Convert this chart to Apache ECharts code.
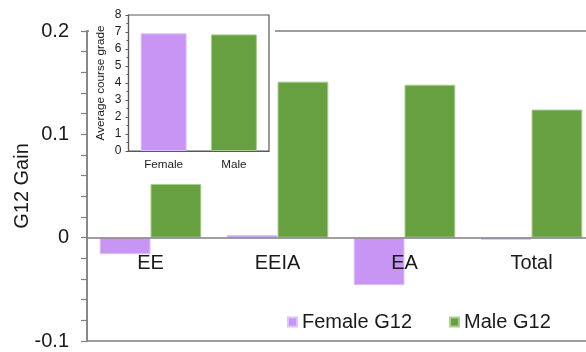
<!DOCTYPE html>
<html>
<head>
<meta charset="utf-8">
<script src="https://cdn.jsdelivr.net/npm/echarts@6/dist/echarts.min.js"></script>
<style>html,body{margin:0;padding:0;background:#fff}#c{width:586px;height:352px}</style>
</head>
<body>
<div id="c"></div>
<script>
const categories = ['EE', 'EEIA', 'EA', 'Total'];
const femaleG12 = [-0.016, 0.0026, -0.046, -0.002];
const maleG12 = [0.052, 0.151, 0.148, 0.124];
const insetCategories = ['Female', 'Male'];
const insetGrades = [6.92, 6.86];

const purple = '#c895f4';
const green = '#66a041';
const font = 'Liberation Sans, Arial, sans-serif';

const gridTop = 31, gridBottom = 11, chartH = 352;
const plotH = chartH - gridTop - gridBottom;
const yMin = -0.1, yMax = 0.2;
// move the category axis up to the zero line
const zeroOffset = -plotH * (0 - yMin) / (yMax - yMin);

const chart = echarts.init(document.getElementById('c'), null, {renderer: 'canvas'});
chart.setOption({
  animation: false,
  backgroundColor: '#fff',
  textStyle: {fontFamily: font},
  grid: [
    {left: 87, top: gridTop, right: -9, bottom: gridBottom, show: true, borderColor: '#7f7f7f', borderWidth: 1.5, backgroundColor: 'transparent', outerBoundsMode: 'none', containLabel: false},
    {left: 128.5, top: 15, width: 140.5, height: 136, show: true, borderColor: '#595959', borderWidth: 1.2, backgroundColor: '#fff', z: 5, outerBoundsMode: 'none', containLabel: false}
  ],
  graphic: [
    {type: 'rect', shape: {x: 89, y: 0, width: 186, height: 177}, style: {fill: '#fff'}, z: 3}
  ],
  legend: {
    left: 287, top: 312, padding: 0, itemGap: 37, itemWidth: 9, itemHeight: 9,
    icon: 'rect', data: ['Female G12', 'Male G12'],
    textStyle: {fontSize: 20, color: '#1a1a1a', fontFamily: font}
  },
  xAxis: [
    {type: 'category', gridIndex: 0, data: categories, z: 3, position: 'bottom', offset: zeroOffset,
     axisLine: {onZero: false, lineStyle: {color: '#808080', width: 1.5}},
     axisTick: {show: false},
     axisLabel: {fontSize: 20, color: '#1a1a1a', margin: 16, fontFamily: font}},
    {type: 'category', gridIndex: 1, data: insetCategories, z: 6,
     axisLine: {lineStyle: {color: '#595959', width: 1.2}},
     axisTick: {show: false},
     axisLabel: {fontSize: 11.7, color: '#1a1a1a', margin: 8, fontFamily: font}}
  ],
  yAxis: [
    {type: 'value', gridIndex: 0, min: yMin, max: yMax, interval: 0.1,
     name: 'G12 Gain', nameLocation: 'middle', nameGap: 55, nameRotate: 90, nameMoveOverlap: false,
     nameTextStyle: {fontSize: 20, color: '#1a1a1a', fontFamily: font},
     axisLine: {show: true, lineStyle: {color: '#808080', width: 1.5}},
     axisTick: {show: true, inside: false, length: 6, lineStyle: {color: '#808080', width: 1.2}},
     minorTick: {show: true, splitNumber: 5, length: 6, lineStyle: {color: '#808080', width: 1.2}},
     splitLine: {show: false},
     axisLabel: {fontSize: 20, color: '#1a1a1a', margin: 18, fontFamily: font}},
    {type: 'value', gridIndex: 1, min: 0, max: 8, interval: 1, z: 6,
     name: 'Average course grade', nameLocation: 'middle', nameGap: 22, nameRotate: 90, nameMoveOverlap: false,
     nameTextStyle: {fontSize: 11.7, color: '#1a1a1a', fontFamily: font},
     axisLine: {show: true, lineStyle: {color: '#595959', width: 1.2}},
     axisTick: {show: true, length: 3, lineStyle: {color: '#595959'}},
     minorTick: {show: true, splitNumber: 2, length: 2, lineStyle: {color: '#595959'}},
     splitLine: {show: false},
     axisLabel: {fontSize: 12, color: '#1a1a1a', margin: 7, fontFamily: font}}
  ],
  series: [
    {name: 'Female G12', type: 'bar', xAxisIndex: 0, yAxisIndex: 0, data: femaleG12,
     barGap: '0%', barCategoryGap: '20%', z: 2,
     itemStyle: {color: purple, borderColor: '#dcc2f8', borderWidth: 1}},
    {name: 'Male G12', type: 'bar', xAxisIndex: 0, yAxisIndex: 0, data: maleG12,
     barGap: '0%', barCategoryGap: '20%', z: 2,
     itemStyle: {color: green, borderColor: '#a9cf8f', borderWidth: 1}},
    {name: 'Average course grade', type: 'bar', xAxisIndex: 1, yAxisIndex: 1, z: 7,
     barWidth: 46,
     data: insetGrades.map((v, i) => ({value: v, itemStyle: {color: i === 0 ? purple : green, borderColor: i === 0 ? '#dcc2f8' : '#a9cf8f', borderWidth: 1}}))}
  ]
});
</script>
</body>
</html>
